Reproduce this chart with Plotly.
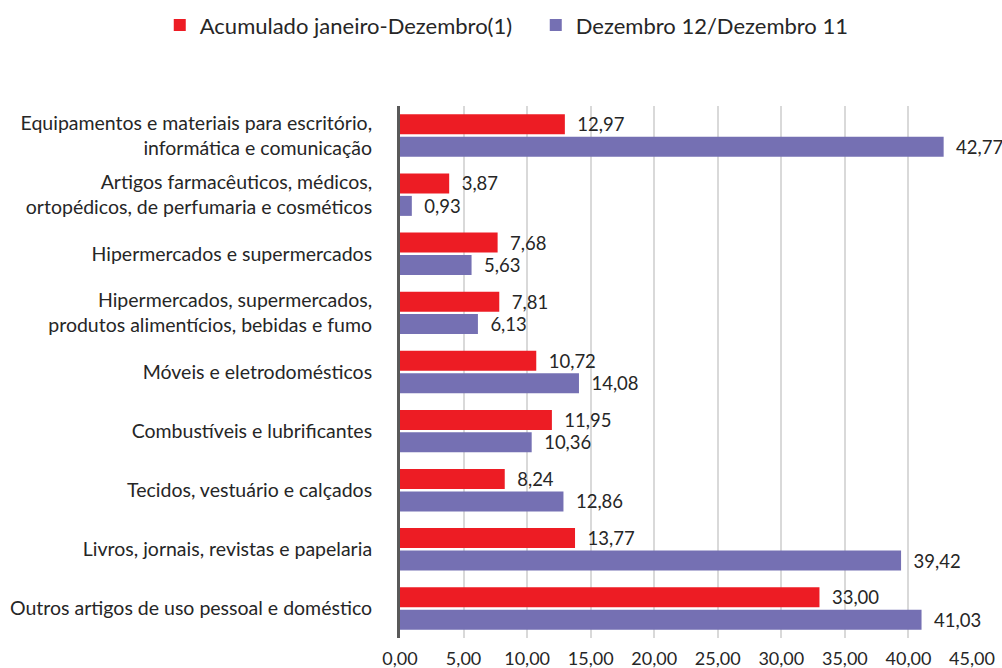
import plotly.graph_objects as go

categories = [
    "Equipamentos e materiais para escritório,<br>informática e comunicação",
    "Artigos farmacêuticos, médicos,<br>ortopédicos, de perfumaria e cosméticos",
    "Hipermercados e supermercados",
    "Hipermercados, supermercados,<br>produtos alimentícios, bebidas e fumo",
    "Móveis e eletrodomésticos",
    "Combustíveis e lubrificantes",
    "Tecidos, vestuário e calçados",
    "Livros, jornais, revistas e papelaria",
    "Outros artigos de uso pessoal e doméstico",
]
acumulado = [12.97, 3.87, 7.68, 7.81, 10.72, 11.95, 8.24, 13.77, 33.00]
dezembro = [42.77, 0.93, 5.63, 6.13, 14.08, 10.36, 12.86, 39.42, 41.03]
series_names = ["Acumulado janeiro-Dezembro(1)", "Dezembro 12/Dezembro 11"]
tick_vals = [0, 5, 10, 15, 20, 25, 30, 35, 40, 45]
tick_text = ["0,00", "5,00", "10,00", "15,00", "20,00", "25,00", "30,00", "35,00", "40,00", "45,00"]

FONT = "Lato, 'Open Sans', sans-serif"
TXT = "#262626"

def fmt(v):
    return "\u00a0\u00a0" + f"{v:.2f}".replace(".", ",")

fig = go.Figure()
for name, vals, color in [(series_names[0], acumulado, "#ED1C24"),
                          (series_names[1], dezembro, "#7570B3")]:
    fig.add_trace(go.Bar(
        y=categories, x=vals, orientation="h", name=name,
        marker=dict(color=color, line=dict(width=0)),
        text=[fmt(v) for v in vals], textposition="outside",
        textfont=dict(family=FONT, size=18.5, color=TXT),
        constraintext="none", cliponaxis=False, hoverinfo="x+y",
    ))

fig.update_layout(
    width=1002, height=668,
    margin=dict(l=400, r=30, t=106, b=30, autoexpand=False),
    paper_bgcolor="white", plot_bgcolor="white",
    barmode="group", bargap=0.24, bargroupgap=0.11,
    font=dict(family=FONT, size=17, color=TXT),
    showlegend=True,
    legend=dict(orientation="h", x=-0.42, xanchor="left", y=1.152, yanchor="middle",
                xref="paper", yref="paper", entrywidth=331,
                font=dict(family=FONT, size=22, color=TXT),
                traceorder="normal"),
)
fig.update_xaxes(range=[0, 45], tickvals=tick_vals, ticktext=tick_text,
                 showgrid=True, gridcolor="#D9D9D9", gridwidth=1.5,
                 zeroline=False, showline=False, automargin=False,
                 ticks="outside", ticklen=4, tickcolor="rgba(0,0,0,0)",
                 tickfont=dict(family=FONT, size=18, color=TXT))
fig.update_yaxes(categoryorder="array", categoryarray=categories,
                 autorange="reversed", showgrid=False, automargin=False,
                 showline=True, linecolor="#595959", linewidth=3,
                 ticks="outside", ticklen=21, tickcolor="rgba(0,0,0,0)",
                 tickfont=dict(family=FONT, size=19.5, color=TXT))

fig.write_html("out.html", config={"displayModeBar": False},
               post_script="document.body.style.margin='0';")
